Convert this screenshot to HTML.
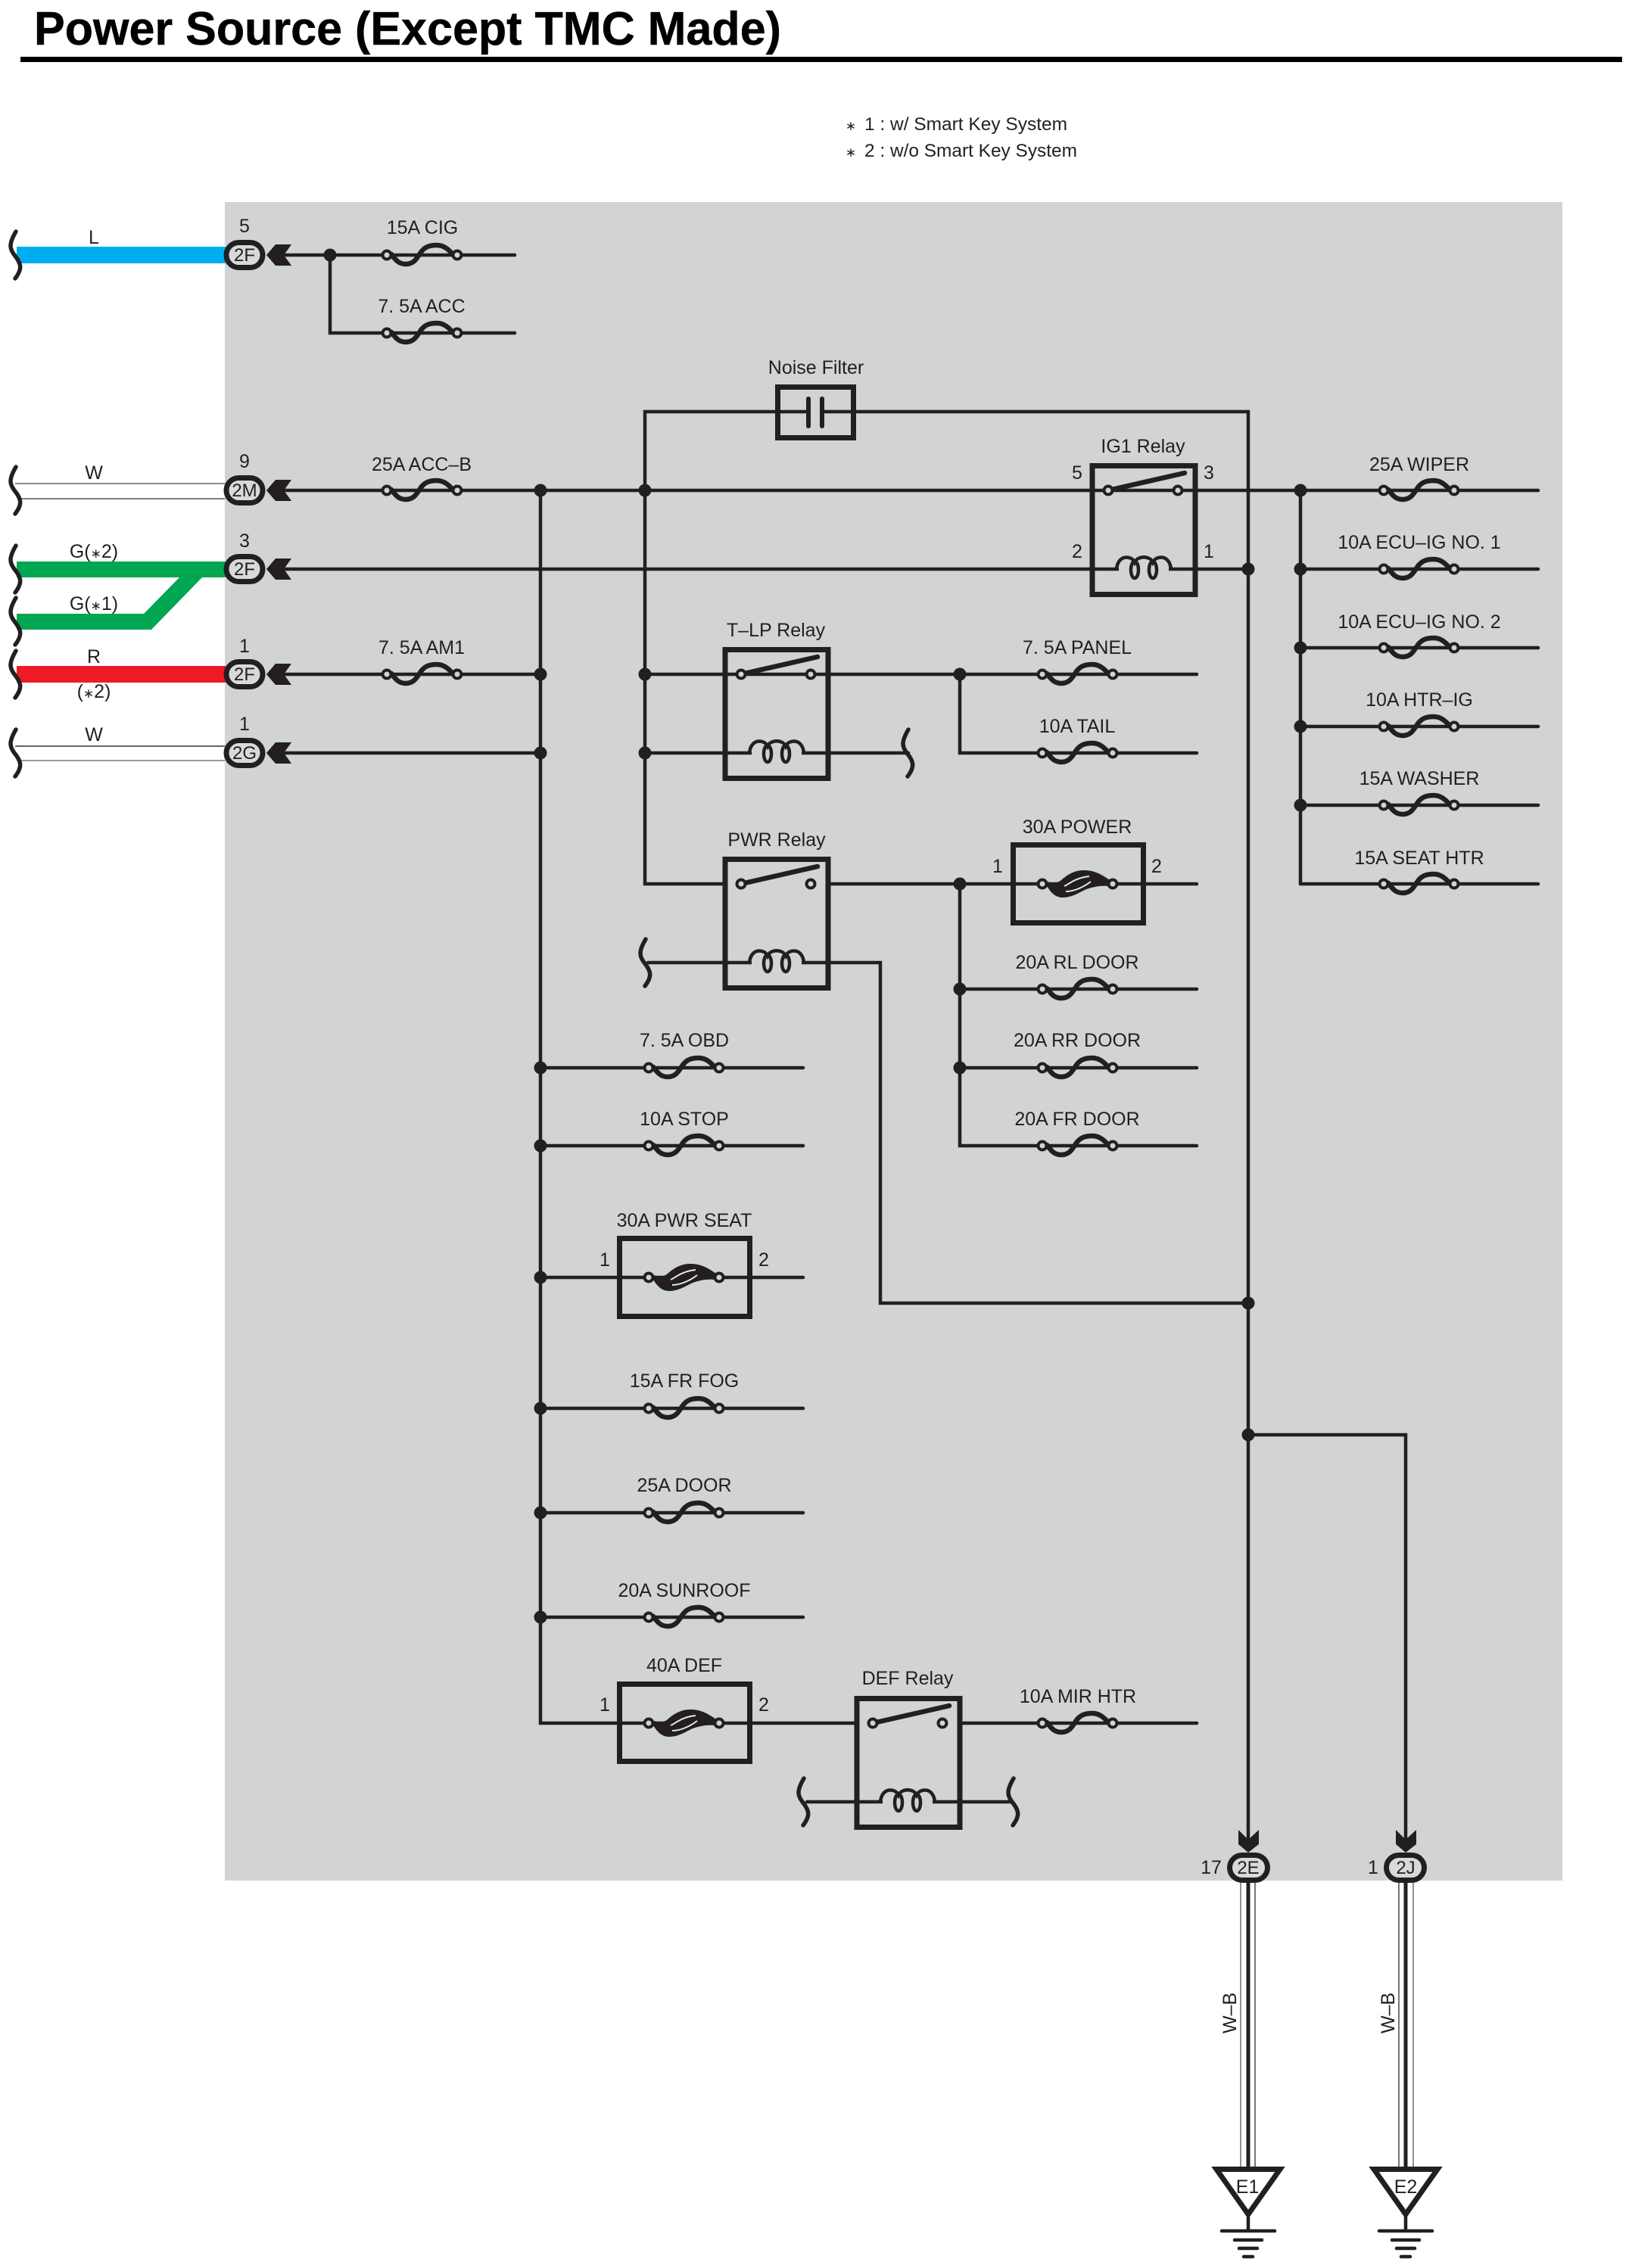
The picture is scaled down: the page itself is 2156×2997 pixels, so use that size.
<!DOCTYPE html>
<html><head><meta charset="utf-8"><title>Power Source (Except TMC Made)</title>
<style>
html,body{margin:0;padding:0;background:#fff}
svg{display:block}
text{font-family:"Liberation Sans",sans-serif;font-size:25px;fill:#231f20}
.m{text-anchor:middle}
.s{font-size:17px}
.w{fill:none;stroke:#231f20;stroke-width:4.5;stroke-linecap:round;stroke-linejoin:miter}
.b{fill:none;stroke:#231f20;stroke-width:7;stroke-linejoin:miter}
</style></head><body>
<svg width="2156" height="2997" viewBox="0 0 2156 2997" xmlns="http://www.w3.org/2000/svg">
<defs>
<g id="fuse">
<path d="M6-1C12 7 16 12 25 12C37 12 40 3 46-5C51-11 57-13 66-13C76-13 82-7 90 2" fill="none" stroke="#231f20" stroke-width="6.5" stroke-linecap="round"/>
<circle cx="0" cy="0" r="5.5" fill="#d1d3d4" stroke="#231f20" stroke-width="4"/>
<circle cx="93" cy="0" r="5.5" fill="#d1d3d4" stroke="#231f20" stroke-width="4"/>
</g>
<g id="bfuse">
<path d="M7-3C14 0 20-1 25-5C33-12 42-18 55-18C68-18 78-13 89-5L88 3C80 2 68 3 56 8C46 13 38 18 27 18C17 18 11 11 6 3Z" fill="#231f20"/>
<path d="M29 3C36 0 43-8 62-10M31 10C40 10 52 6 64-3" fill="none" stroke="#e6e7e8" stroke-width="2"/>
<circle cx="0" cy="0" r="5.5" fill="#d1d3d4" stroke="#231f20" stroke-width="4"/>
<circle cx="93" cy="0" r="5.5" fill="#d1d3d4" stroke="#231f20" stroke-width="4"/>
</g>
<g id="coil">
<path d="M-36 0C-34-20-16-18-12-9C-8-18 8-18 12-9C16-18 34-20 36 0" fill="none" stroke="#231f20" stroke-width="4.5"/>
<ellipse cx="-12" cy="1" rx="5" ry="11" fill="none" stroke="#231f20" stroke-width="4.5"/>
<ellipse cx="12" cy="1" rx="5" ry="11" fill="none" stroke="#231f20" stroke-width="4.5"/>
</g>
<g id="sq"><path d="M21-31C11-14 13-8 19 0C28 11 30 18 20 31" fill="none" stroke="#231f20" stroke-width="5.5" stroke-linecap="round"/></g>
<g id="relay">
<rect x="3" y="-32.5" width="136" height="170" class="b"/>
<line x1="24" y1="0" x2="125" y2="-23" stroke="#231f20" stroke-width="6.5" stroke-linecap="round"/>
<circle cx="24" cy="0" r="5.5" fill="#d1d3d4" stroke="#231f20" stroke-width="4"/>
<circle cx="116" cy="0" r="5.5" fill="#d1d3d4" stroke="#231f20" stroke-width="4"/>
</g>
<g id="arrL"><path d="M352 0L364-14L385-14L375 0L385 14L364 14Z" fill="#231f20"/></g>
<g id="conn"><rect x="-24" y="-16.5" width="48" height="33" rx="16.5" fill="#d8d9da" stroke="#231f20" stroke-width="7"/></g>
<g id="gnd">
<path d="M-42 2.5L42 2.5L0 62Z" fill="#fff" stroke="#231f20" stroke-width="7" stroke-linejoin="miter"/>
<line x1="0" y1="64" x2="0" y2="84" stroke="#231f20" stroke-width="4.5"/>
<line x1="-35" y1="84" x2="35" y2="84" stroke="#231f20" stroke-width="4.5" stroke-linecap="round"/>
<line x1="-18" y1="96" x2="18" y2="96" stroke="#231f20" stroke-width="4.5" stroke-linecap="round"/>
<line x1="-12" y1="107" x2="12" y2="107" stroke="#231f20" stroke-width="4.5" stroke-linecap="round"/>
<line x1="-6" y1="118" x2="6" y2="118" stroke="#231f20" stroke-width="4.5" stroke-linecap="round"/>
</g>
</defs>

<rect width="2156" height="2997" fill="#fff"/>
<text x="45" y="59" style="font-size:62px;font-weight:bold;fill:#000;stroke:#000;stroke-width:0.5" textLength="987" lengthAdjust="spacingAndGlyphs">Power Source (Except TMC Made)</text>
<rect x="27" y="75" width="2116" height="7" fill="#000"/>
<text class="m s" x="1124" y="172">∗</text>
<text class="m s" x="1124" y="207">∗</text>
<text x="1142" y="172" style="font-size:24px" textLength="268" lengthAdjust="spacingAndGlyphs">1 : w/ Smart Key System</text>
<text x="1142" y="207" style="font-size:24px" textLength="281" lengthAdjust="spacingAndGlyphs">2 : w/o Smart Key System</text>

<rect x="297" y="267" width="1767" height="2218" fill="#d1d3d4"/>

<!-- left harness -->
<rect x="22" y="326" width="276" height="22" fill="#00aeef"/>
<rect x="22" y="742" width="276" height="21" fill="#00a651"/>
<path d="M22 811H190L237 763H267L200 832H22Z" fill="#00a651"/>
<rect x="22" y="880" width="276" height="22" fill="#ed1c24"/>
<line x1="20" y1="639" x2="297" y2="639" stroke="#666" stroke-width="1.6"/>
<line x1="24" y1="659" x2="297" y2="659" stroke="#555" stroke-width="1.6"/>
<line x1="20" y1="986" x2="297" y2="986" stroke="#333" stroke-width="1.6"/>
<line x1="24" y1="1005" x2="297" y2="1005" stroke="#777" stroke-width="1.6"/>
<use href="#sq" x="0" y="337"/><use href="#sq" x="0" y="648"/><use href="#sq" x="0" y="752"/><use href="#sq" x="0" y="821"/><use href="#sq" x="0" y="891"/><use href="#sq" x="0" y="995"/>
<text class="m" x="124" y="322">L</text>
<text class="m" x="124" y="633">W</text>
<text class="m" x="124" y="737">G(<tspan class="s">∗</tspan>2)</text>
<text class="m" x="124" y="806">G(<tspan class="s">∗</tspan>1)</text>
<text class="m" x="124" y="876">R</text>
<text class="m" x="124" y="922">(<tspan class="s">∗</tspan>2)</text>
<text class="m" x="124" y="979">W</text>

<!-- wires -->
<path class="w" d="M360 337H680M436 337V440H680"/>
<path class="w" d="M360 648H1581M360 752H1649M360 891H714M360 995H714"/>
<path class="w" d="M714 648V2277H1129M852 648V544H1649V2440M1581 648H1718M1718 648V1168M852 648V1168H955M852 891H1581M852 995H1200M1268 891V995H1581"/>
<path class="w" d="M1718 648H2032M1718 752H2032M1718 856H2032M1718 960H2032M1718 1064H2032M1718 1168H2032"/>
<path class="w" d="M1097 1168H1581M1268 1168V1514H1581M1268 1307H1581M1268 1411H1581"/>
<path class="w" d="M856 1272H1163V1722H1649"/>
<path class="w" d="M714 1411H1061M714 1514H1061M714 1688H1061M714 1861H1061M714 1999H1061M714 2137H1061"/>
<path class="w" d="M1270 2277H1581M1066 2381H1334"/>
<path class="w" d="M1649 1896H1857V2440"/>

<!-- junctions -->
<g fill="#231f20">
<circle cx="436" cy="337" r="8.5"/><circle cx="714" cy="648" r="8.5"/><circle cx="852" cy="648" r="8.5"/><circle cx="714" cy="891" r="8.5"/><circle cx="714" cy="995" r="8.5"/>
<circle cx="852" cy="891" r="8.5"/><circle cx="852" cy="995" r="8.5"/><circle cx="1268" cy="891" r="8.5"/><circle cx="1268" cy="1168" r="8.5"/><circle cx="1268" cy="1307" r="8.5"/><circle cx="1268" cy="1411" r="8.5"/>
<circle cx="1649" cy="752" r="8.5"/><circle cx="1649" cy="1722" r="8.5"/><circle cx="1649" cy="1896" r="8.5"/>
<circle cx="1718" cy="648" r="8.5"/><circle cx="1718" cy="752" r="8.5"/><circle cx="1718" cy="856" r="8.5"/><circle cx="1718" cy="960" r="8.5"/><circle cx="1718" cy="1064" r="8.5"/>
<circle cx="714" cy="1411" r="8.5"/><circle cx="714" cy="1514" r="8.5"/><circle cx="714" cy="1688" r="8.5"/><circle cx="714" cy="1861" r="8.5"/><circle cx="714" cy="1999" r="8.5"/><circle cx="714" cy="2137" r="8.5"/>
</g>

<!-- left connectors -->
<use href="#arrL" x="0" y="337"/><use href="#arrL" x="0" y="648"/><use href="#arrL" x="0" y="752"/><use href="#arrL" x="0" y="891"/><use href="#arrL" x="0" y="995"/>
<use href="#conn" x="323" y="337"/><use href="#conn" x="323" y="648"/><use href="#conn" x="323" y="752"/><use href="#conn" x="323" y="891"/><use href="#conn" x="323" y="995"/>
<g style="font-size:24px">
<text class="m" x="323" y="345" style="font-size:24px">2F</text>
<text class="m" x="323" y="656" style="font-size:24px">2M</text>
<text class="m" x="323" y="760" style="font-size:24px">2F</text>
<text class="m" x="323" y="899" style="font-size:24px">2F</text>
<text class="m" x="323" y="1003" style="font-size:24px">2G</text>
</g>
<text class="m" x="323" y="307">5</text>
<text class="m" x="323" y="618">9</text>
<text class="m" x="323" y="723">3</text>
<text class="m" x="323" y="862">1</text>
<text class="m" x="323" y="965">1</text>

<!-- fuses -->
<use href="#fuse" x="511" y="337"/><use href="#fuse" x="511" y="440"/><use href="#fuse" x="511" y="648"/><use href="#fuse" x="511" y="891"/>
<use href="#fuse" x="1828" y="648"/><use href="#fuse" x="1828" y="752"/><use href="#fuse" x="1828" y="856"/><use href="#fuse" x="1828" y="960"/><use href="#fuse" x="1828" y="1064"/><use href="#fuse" x="1828" y="1168"/>
<use href="#fuse" x="1377" y="891"/><use href="#fuse" x="1377" y="995"/><use href="#fuse" x="1377" y="1307"/><use href="#fuse" x="1377" y="1411"/><use href="#fuse" x="1377" y="1514"/><use href="#fuse" x="1377" y="2277"/>
<use href="#fuse" x="857" y="1411"/><use href="#fuse" x="857" y="1514"/><use href="#fuse" x="857" y="1861"/><use href="#fuse" x="857" y="1999"/><use href="#fuse" x="857" y="2137"/>

<text class="m" x="558" y="309">15A CIG</text>
<text class="m" x="557" y="413">7. 5A ACC</text>
<text class="m" x="557" y="622">25A ACC–B</text>
<text class="m" x="557" y="864">7. 5A AM1</text>
<text class="m" x="1875" y="622">25A WIPER</text>
<text class="m" x="1875" y="725">10A ECU–IG NO. 1</text>
<text class="m" x="1875" y="830">10A ECU–IG NO. 2</text>
<text class="m" x="1875" y="933">10A HTR–IG</text>
<text class="m" x="1875" y="1037">15A WASHER</text>
<text class="m" x="1875" y="1142">15A SEAT HTR</text>
<text class="m" x="1423" y="864">7. 5A PANEL</text>
<text class="m" x="1423" y="968">10A TAIL</text>
<text class="m" x="1423" y="1101">30A POWER</text>
<text class="m" x="1423" y="1280">20A RL DOOR</text>
<text class="m" x="1423" y="1383">20A RR DOOR</text>
<text class="m" x="1423" y="1487">20A FR DOOR</text>
<text class="m" x="1424" y="2250">10A MIR HTR</text>
<text class="m" x="904" y="1383">7. 5A OBD</text>
<text class="m" x="904" y="1487">10A STOP</text>
<text class="m" x="904" y="1621">30A PWR SEAT</text>
<text class="m" x="904" y="1833">15A FR FOG</text>
<text class="m" x="904" y="1971">25A DOOR</text>
<text class="m" x="904" y="2110">20A SUNROOF</text>
<text class="m" x="904" y="2209">40A DEF</text>

<!-- noise filter -->
<rect x="1027.5" y="511.5" width="100" height="67" class="b"/>
<rect x="1071" y="535" width="12" height="18" fill="#d1d3d4"/>
<line x1="1068" y1="527" x2="1068" y2="563" stroke="#231f20" stroke-width="6" stroke-linecap="round"/>
<line x1="1086" y1="527" x2="1086" y2="563" stroke="#231f20" stroke-width="6" stroke-linecap="round"/>
<text class="m" x="1078" y="494">Noise Filter</text>

<!-- relays -->
<use href="#relay" x="1440" y="648"/>
<rect x="1478" y="744" width="66" height="16" fill="#d1d3d4"/><use href="#coil" x="1511" y="752"/>
<text class="m" x="1510" y="598">IG1 Relay</text>
<text class="m" x="1423" y="633">5</text><text class="m" x="1597" y="633">3</text><text class="m" x="1423" y="737">2</text><text class="m" x="1597" y="737">1</text>

<use href="#relay" x="955" y="891"/>
<rect x="993" y="987" width="66" height="16" fill="#d1d3d4"/><use href="#coil" x="1026" y="995"/>
<text class="m" x="1025" y="841">T–LP Relay</text>
<use href="#sq" x="1179" y="995"/>

<use href="#relay" x="955" y="1168"/>
<rect x="993" y="1264" width="66" height="16" fill="#d1d3d4"/><use href="#coil" x="1026" y="1272"/>
<text class="m" x="1026" y="1118">PWR Relay</text>
<use href="#sq" x="832" y="1272"/>

<use href="#relay" x="1129" y="2277"/>
<rect x="1166" y="2373" width="66" height="16" fill="#d1d3d4"/><use href="#coil" x="1199" y="2381"/>
<text class="m" x="1199" y="2226">DEF Relay</text>
<use href="#sq" x="1041" y="2381"/><use href="#sq" x="1318" y="2381"/>

<!-- boxed fuses -->
<rect x="1338.5" y="1116.5" width="172" height="103" class="b"/>
<use href="#bfuse" x="1377" y="1168"/>
<text class="m" x="1318" y="1153">1</text><text class="m" x="1528" y="1153">2</text>

<rect x="818.5" y="1636.5" width="172" height="103" class="b"/>
<use href="#bfuse" x="857" y="1688"/>
<text class="m" x="799" y="1673">1</text><text class="m" x="1009" y="1673">2</text>

<rect x="818.5" y="2225.5" width="172" height="102" class="b"/>
<use href="#bfuse" x="857" y="2277"/>
<text class="m" x="799" y="2261">1</text><text class="m" x="1009" y="2261">2</text>

<!-- bottom connectors -->
<path d="M1636 2418L1649 2431L1663 2418V2437L1649 2448L1636 2437Z" fill="#231f20"/>
<path d="M1844 2418L1857 2431L1871 2418V2437L1857 2448L1844 2437Z" fill="#231f20"/>
<line x1="1639" y1="2485" x2="1639" y2="2866" stroke="#777" stroke-width="1.6"/>
<line x1="1658" y1="2485" x2="1658" y2="2866" stroke="#555" stroke-width="1.6"/>
<line x1="1848" y1="2485" x2="1848" y2="2866" stroke="#555" stroke-width="1.6"/>
<line x1="1867" y1="2485" x2="1867" y2="2866" stroke="#777" stroke-width="1.6"/>
<line x1="1649" y1="2480" x2="1649" y2="2866" stroke="#231f20" stroke-width="5"/>
<line x1="1857" y1="2480" x2="1857" y2="2866" stroke="#231f20" stroke-width="5"/>
<rect x="1624.5" y="2451.5" width="50" height="33" rx="16.5" fill="#d8d9da" stroke="#231f20" stroke-width="7"/>
<rect x="1831.5" y="2451.5" width="50" height="33" rx="16.5" fill="#d8d9da" stroke="#231f20" stroke-width="7"/>
<text class="m" x="1649" y="2476" style="font-size:24px">2E</text>
<text class="m" x="1857" y="2476" style="font-size:24px">2J</text>
<text class="m" x="1600" y="2476">17</text>
<text class="m" x="1814" y="2476">1</text>
<text class="m" transform="translate(1633 2660) rotate(-90)">W–B</text>
<text class="m" transform="translate(1842 2660) rotate(-90)">W–B</text>
<use href="#gnd" x="1649" y="2864"/><use href="#gnd" x="1857" y="2864"/>
<text class="m" x="1648" y="2898">E1</text>
<text class="m" x="1857" y="2898">E2</text>
</svg>
</body></html>
